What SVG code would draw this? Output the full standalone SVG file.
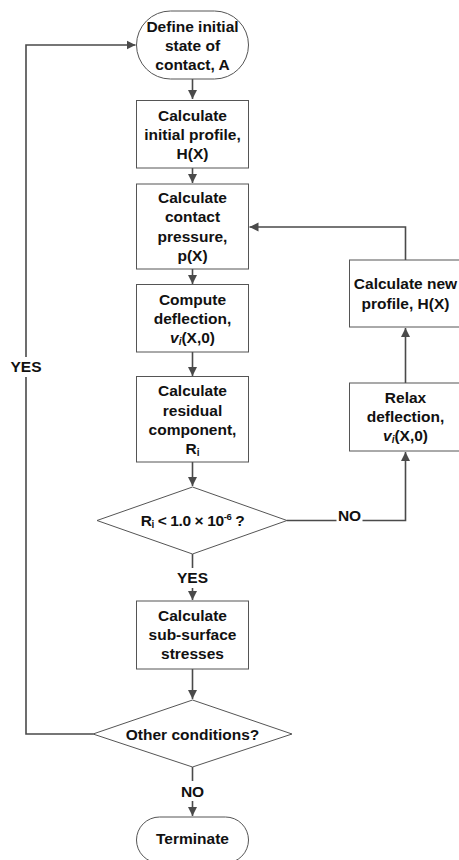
<svg xmlns="http://www.w3.org/2000/svg" width="459" height="860" viewBox="0 0 459 860">
<defs>
<marker id="ah" markerWidth="10" markerHeight="10" refX="9" refY="5" orient="auto" markerUnits="userSpaceOnUse">
<path d="M0,0.5 L9,5 L0,9.5 Z" fill="#4a4a4a"/>
</marker>
<style>
.n{fill:#fff;stroke:#555;stroke-width:1}
.t{font-family:"Liberation Sans",Arial,sans-serif;font-weight:bold;font-size:15.5px;fill:#111;text-anchor:middle}
.c{fill:none;stroke:#4a4a4a;stroke-width:1.6}
.lb{fill:#fff}
</style>
</defs>
<rect width="459" height="860" fill="#fff"/>
<g id="connectors">
<path class="c" d="M192.5,79 V99" marker-end="url(#ah)"/>
<path class="c" d="M192.5,168 V183" marker-end="url(#ah)"/>
<path class="c" d="M192.5,269 V284" marker-end="url(#ah)"/>
<path class="c" d="M192.5,352 V376" marker-end="url(#ah)"/>
<path class="c" d="M192.5,462 V486" marker-end="url(#ah)"/>
<path class="c" d="M192.5,554 V600" marker-end="url(#ah)"/>
<path class="c" d="M192.5,669 V699" marker-end="url(#ah)"/>
<path class="c" d="M192.5,767 V816" marker-end="url(#ah)"/>
<path class="c" d="M287,520.5 H405.5 V452" marker-end="url(#ah)"/>
<path class="c" d="M405.5,383 V328" marker-end="url(#ah)"/>
<path class="c" d="M405.5,260 V227 H249.5" marker-end="url(#ah)"/>
<path class="c" d="M93,734 H26 V45 H135.5" marker-end="url(#ah)"/>
<rect class="lb" x="336.5" y="507" width="26" height="15"/>
<text class="t" x="349.5" y="521">NO</text>
<rect class="lb" x="8" y="357" width="36" height="20"/>
<text class="t" x="26" y="372">YES</text>
<rect class="lb" x="174" y="568" width="37" height="20"/>
<text class="t" x="192.5" y="583">YES</text>
<rect class="lb" x="178" y="781" width="29" height="20"/>
<text class="t" x="192.5" y="796.5">NO</text>
</g>
<g id="start">
<rect class="n" x="136.5" y="11" width="112" height="68" rx="34" ry="34"/>
<text class="t" x="192.5" y="31.5">Define initial</text>
<text class="t" x="192.5" y="50.5">state of</text>
<text class="t" x="192.5" y="69.5">contact, A</text>
</g>
<g id="initial-profile">
<rect class="n" x="136.5" y="100.5" width="112" height="67.5"/>
<text class="t" x="192.5" y="120.5">Calculate</text>
<text class="t" x="192.5" y="139.5">initial profile,</text>
<text class="t" x="192.5" y="158.5">H(X)</text>
</g>
<g id="contact-pressure">
<rect class="n" x="136.5" y="184" width="112" height="85"/>
<text class="t" x="192.5" y="203">Calculate</text>
<text class="t" x="192.5" y="222">contact</text>
<text class="t" x="192.5" y="241.5">pressure,</text>
<text class="t" x="192.5" y="260.5">p(X)</text>
</g>
<g id="deflection">
<rect class="n" x="136.5" y="284.5" width="112" height="67.5"/>
<text class="t" x="192.5" y="304.5">Compute</text>
<text class="t" x="192.5" y="323.5">deflection,</text>
<text class="t" x="192.5" y="342.5"><tspan font-style="italic">v</tspan><tspan font-style="italic" font-size="10px" dy="2">i</tspan><tspan dy="-2">(X,0)</tspan></text>
</g>
<g id="residual">
<rect class="n" x="136.5" y="376.5" width="112" height="85.5"/>
<text class="t" x="192.5" y="396">Calculate</text>
<text class="t" x="192.5" y="415.5">residual</text>
<text class="t" x="192.5" y="434.5">component,</text>
<text class="t" x="192.5" y="453.5">R<tspan font-size="10px" dy="2">i</tspan></text>
</g>
<g id="decision-residual">
<polygon class="n" points="192.5,487 287,520.5 192.5,554 97,520.5"/>
<text class="t" x="192.5" y="526" letter-spacing="-0.4">R<tspan font-size="10px" dy="2">i</tspan><tspan dy="-2"> &lt; 1.0 × 10</tspan><tspan font-size="9.5px" dy="-6">-6</tspan><tspan dy="6"> ?</tspan></text>
</g>
<g id="new-profile">
<rect class="n" x="349.5" y="260" width="112" height="67"/>
<text class="t" x="405.5" y="288.5">Calculate new</text>
<text class="t" x="405.5" y="308.5">profile, H(X)</text>
</g>
<g id="relax">
<rect class="n" x="349.5" y="383" width="112" height="68"/>
<text class="t" x="405.5" y="402.5">Relax</text>
<text class="t" x="405.5" y="421.5">deflection,</text>
<text class="t" x="405.5" y="440.5"><tspan font-style="italic">v</tspan><tspan font-style="italic" font-size="10px" dy="2">i</tspan><tspan dy="-2">(X,0)</tspan></text>
</g>
<g id="subsurface">
<rect class="n" x="136.5" y="601" width="112" height="68"/>
<text class="t" x="192.5" y="621">Calculate</text>
<text class="t" x="192.5" y="640">sub-surface</text>
<text class="t" x="192.5" y="659">stresses</text>
</g>
<g id="decision-other">
<polygon class="n" points="192.5,700 292,734 192.5,767 93,734"/>
<text class="t" x="192.5" y="739.5">Other conditions?</text>
</g>
<g id="terminate">
<rect class="n" x="136.5" y="817" width="112" height="46" rx="23" ry="23"/>
<text class="t" x="192.5" y="843.5">Terminate</text>
</g>
</svg>
